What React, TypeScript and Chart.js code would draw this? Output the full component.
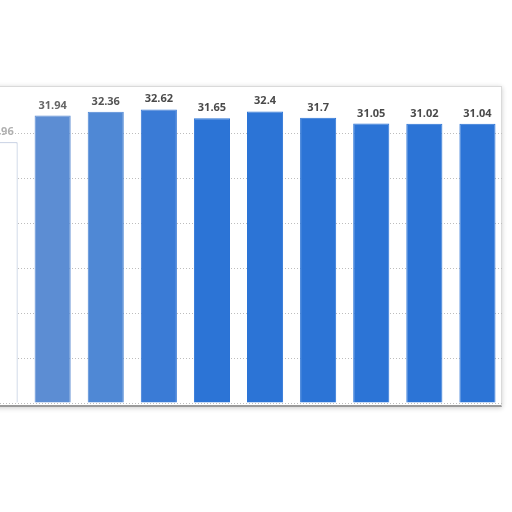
import React, { useEffect, useRef } from "react";
import { Chart, registerables } from "chart.js";

Chart.register(...registerables);

const categories = ["c0", "c1", "c2", "c3", "c4", "c5", "c6", "c7", "c8", "c9"];
const values = [28.96, 31.94, 32.36, 32.62, 31.65, 32.4, 31.7, 31.05, 31.02, 31.04];
const labels = ["28.96", "31.94", "32.36", "32.62", "31.65", "32.4", "31.7", "31.05", "31.02", "31.04"];
const barColors = ["#ffffff", "#5c8dd3", "#4f88d5", "#3a7bd6", "#2c74d6", "#2c74d6", "#2c74d6", "#2c74d6", "#2c74d6", "#2c74d6"];
const borderColors = ["#aab9d4", "#5c8dd3", "#4f88d5", "#3a7bd6", "#2c74d6", "#2c74d6", "#2c74d6", "#2c74d6", "#2c74d6", "#2c74d6"];
const labelColors = ["#b0b0b0", "#666666", "#555555", "#4a4a4a", "#4a4a4a", "#4a4a4a", "#4a4a4a", "#4a4a4a", "#4a4a4a", "#4a4a4a"];

const labelPlugin = {
  id: "valueLabels",
  afterDatasetsDraw(chart: any) {
    const ctx = chart.ctx;
    const meta = chart.getDatasetMeta(0);
    ctx.save();
    ctx.font = "bold 11px 'Open Sans', sans-serif";
    ctx.textAlign = "center";
    ctx.textBaseline = "alphabetic";
    meta.data.forEach((bar: any, i: number) => {
      ctx.fillStyle = labelColors[i];
      ctx.fillText(labels[i], bar.x, bar.y - 7);
    });
    ctx.restore();
  },
};

export default function App() {
  const ref = useRef<HTMLCanvasElement | null>(null);
  useEffect(() => {
    if (!ref.current) return;
    const chart = new Chart(ref.current, {
      type: "bar",
      data: {
        labels: categories,
        datasets: [
          {
            data: values,
            backgroundColor: barColors,
            borderColor: borderColors,
            borderWidth: 1,
            barPercentage: 0.68,
            categoryPercentage: 1,
          },
        ],
      },
      options: {
        animation: false,
        responsive: false,
        maintainAspectRatio: false,
        layout: { padding: { top: 88, bottom: 109, left: 0, right: 0 } },
        plugins: { legend: { display: false }, tooltip: { enabled: false } },
        scales: {
          x: { display: false },
          y: {
            min: 0,
            max: 35,
            ticks: { display: false, stepSize: 5 },
            border: { display: false, dash: [1, 2] },
            grid: {
              drawTicks: false,
              color: (c: any) => (c.tick && c.tick.value === 35 ? "rgba(0,0,0,0)" : "#bdbdbd"),
            },
          },
        },
      },
      plugins: [labelPlugin],
    });
    return () => chart.destroy();
  }, []);

  return (
    <div style={{ position: "fixed", left: 0, top: 0, width: 512, height: 512, overflow: "hidden", background: "#ffffff" }}>
      <div
        style={{
          position: "absolute",
          left: -10,
          top: 86,
          width: 510,
          height: 318,
          background: "#ffffff",
          border: "1px solid #dadada",
          borderBottom: "2px solid #9a9a9a",
          boxShadow: "0 1px 5px rgba(0,0,0,0.2)",
        }}
      />
      <canvas ref={ref} width={531} height={512} style={{ position: "absolute", left: -27, top: 0, width: 531, height: 512 }} />
    </div>
  );
}
